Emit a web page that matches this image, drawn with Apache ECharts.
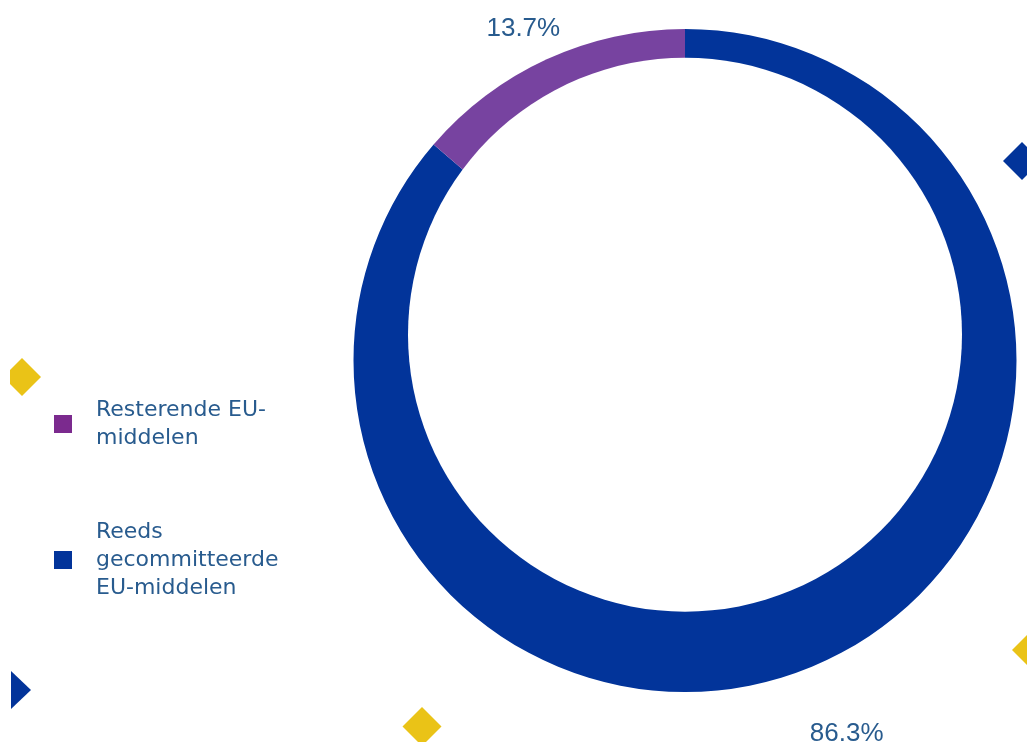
<!DOCTYPE html>
<html>
<head>
<meta charset="utf-8">
<script src="https://cdn.jsdelivr.net/npm/echarts@6/dist/echarts.min.js"></script>
<style>
html,body{margin:0;padding:0;background:#fff;}
#chart{width:1027px;height:742px;}
</style>
</head>
<body>
<div id="chart"></div>
<script>
// Data
const categories = ['Reeds gecommitteerde EU-middelen', 'Resterende EU-middelen'];
const shares = [86.3, 13.7];
const legendOrder = ['Resterende EU-middelen', 'Reeds gecommitteerde EU-middelen'];
const legendText = {
  'Resterende EU-middelen': 'Resterende EU-\nmiddelen',
  'Reeds gecommitteerde EU-middelen': 'Reeds\ngecommitteerde\nEU-middelen'
};

const sliceColors = { 'Reeds gecommitteerde EU-middelen': '#02349A', 'Resterende EU-middelen': '#7743A0' };
const legendColors = { 'Reeds gecommitteerde EU-middelen': '#02349A', 'Resterende EU-middelen': '#7B2A8E' };
const textColor = '#285B8E';
const yellow = '#EAC317';
const blue = '#02349A';

const chart = echarts.init(document.getElementById('chart'));

const pieData = categories.map((c, i) => ({ name: c, value: shares[i], itemStyle: { color: sliceColors[c] } }));
const labelData = categories.map((c, i) => ({ name: c, value: shares[i] }));

function diamond(points, color) {
  return { type: 'polygon', z: 20, silent: true, shape: { points: points }, style: { fill: color } };
}

chart.setOption({
  animation: false,
  legend: {
    orient: 'vertical',
    left: 54,
    top: 396,
    padding: 0,
    itemWidth: 18,
    itemHeight: 18,
    itemGap: 66,
    icon: 'rect',
    selectedMode: false,
    data: legendOrder.map(n => ({ name: n, itemStyle: { color: legendColors[n] } })),
    formatter: n => legendText[n],
    textStyle: {
      fontFamily: 'DejaVu Sans',
      fontSize: 22,
      lineHeight: 28,
      color: textColor,
      padding: [0, 0, 0, 19]
    }
  },
  graphic: [
    { type: 'circle', z: 10, silent: true, shape: { cx: 685, cy: 334.7, r: 277 }, style: { fill: '#fff' } },
    diamond([[22,358],[41,377],[22,396],[10,384],[10,370]], yellow),
    diamond([[11,671],[31,690],[11,709]], blue),
    diamond([[1022,142],[1041,161],[1022,180],[1003,161]], blue),
    diamond([[422,707],[441.5,726.5],[422,746],[402.5,726.5]], yellow),
    diamond([[1031,631],[1050,650],[1031,669],[1012,650]], yellow)
  ],
  series: [
    {
      type: 'pie',
      center: [685, 360.5],
      radius: [0, 331.5],
      startAngle: 90,
      clockwise: true,
      silent: true,
      label: { show: false },
      labelLine: { show: false },
      data: pieData
    },
    {
      type: 'pie',
      center: [685, 381.3],
      radius: [372, 397],
      startAngle: 90,
      clockwise: true,
      silent: true,
      itemStyle: { color: 'rgba(0,0,0,0)' },
      label: {
        show: true,
        position: 'inside',
        formatter: p => p.value.toFixed(1) + '%',
        fontFamily: 'Liberation Sans',
        fontSize: 26,
        color: textColor
      },
      labelLine: { show: false },
      data: labelData
    }
  ]
});
</script>
</body>
</html>
